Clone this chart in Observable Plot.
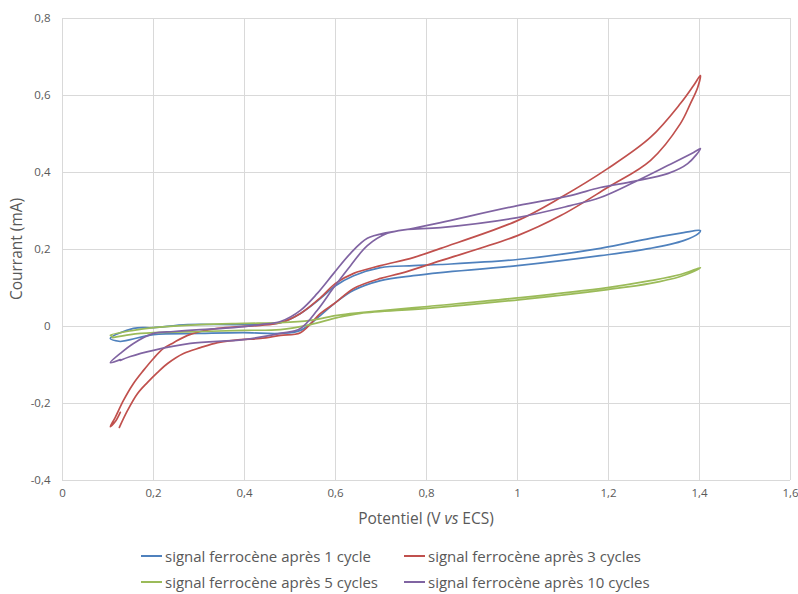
<!DOCTYPE html>
<html>
<head>
<meta charset="utf-8">
<script src="https://cdn.jsdelivr.net/npm/d3@7"></script>
<script src="https://cdn.jsdelivr.net/npm/@observablehq/plot@0.6"></script>
<style>
  html, body { margin: 0; padding: 0; background: #fff; }
  #wrap { position: relative; width: 798px; height: 594px; overflow: hidden; font-family: "Open Sans", sans-serif; color: #595959; }
  #xtitle { position: absolute; left: 62px; width: 728px; top: 507px; text-align: center; font-size: 15.5px; }
  #legend { position: absolute; left: 141px; top: 545px; display: grid; grid-template-columns: 263px 263px; row-gap: 4px; font-size: 15px; }
  .item { display: flex; align-items: center; height: 22px; white-space: nowrap; }
  .sw { display: inline-block; width: 21px; height: 2px; margin-right: 3px; }
</style>
</head>
<body>
<div id="wrap">
  <div id="chart"></div>
  <div id="xtitle">Potentiel (V <i>vs</i> ECS)</div>
  <div id="legend"></div>
</div>
<script>
// Series names and colours
const seriesNames = [
  "signal ferrocène après 1 cycle",
  "signal ferrocène après 3 cycles",
  "signal ferrocène après 5 cycles",
  "signal ferrocène après 10 cycles"
];
const seriesColors = ["#4F81BD", "#C0504D", "#9BBB59", "#8064A2"];

// Axis ticks
const xTicks = [0, 0.2, 0.4, 0.6, 0.8, 1, 1.2, 1.4, 1.6];
const yTicks = [-0.4, -0.2, 0, 0.2, 0.4, 0.6, 0.8];

// 1 cycle (blue): potential (V) and current (mA), ordered along the scan
const blueV = [0.127, 0.105, 0.156, 0.200, 0.275, 0.398, 0.479, 0.523, 0.567, 0.600, 0.640, 0.699, 0.771, 0.831, 1.0, 1.182, 1.292, 1.365, 1.402,
               1.398, 1.365, 1.292, 1.182, 1.0, 0.831, 0.771, 0.699, 0.640, 0.600, 0.567, 0.523, 0.479, 0.398, 0.303, 0.200, 0.149, 0.127];
const blueI = [-0.039, -0.031, -0.005, -0.003, 0.005, 0.005, 0.010, 0.034, 0.073, 0.106, 0.132, 0.153, 0.158, 0.161, 0.174, 0.203, 0.229, 0.244, 0.249,
               0.242, 0.223, 0.203, 0.184, 0.158, 0.140, 0.132, 0.119, 0.094, 0.062, 0.029, -0.010, -0.018, -0.016, -0.018, -0.021, -0.034, -0.039];

// 3 cycles (red)
const redV = [0.127, 0.116, 0.105, 0.116, 0.134, 0.156, 0.178, 0.200, 0.222, 0.244, 0.275, 0.303, 0.341, 0.391, 0.435, 0.479, 0.523, 0.567, 0.600, 0.640, 0.699, 0.771, 0.831, 1.0, 1.095, 1.198, 1.292, 1.358, 1.387, 1.402,
              1.396, 1.380, 1.358, 1.292, 1.198, 1.095, 1.0, 0.831, 0.743, 0.699, 0.640, 0.600, 0.567, 0.523, 0.479, 0.435, 0.391, 0.341, 0.303, 0.266, 0.231, 0.209, 0.187, 0.165, 0.143, 0.125];
const redI = [-0.223, -0.247, -0.260, -0.236, -0.192, -0.148, -0.114, -0.083, -0.057, -0.042, -0.023, -0.013, -0.005, 0.000, 0.003, 0.010, 0.034, 0.075, 0.112, 0.138, 0.158, 0.179, 0.203, 0.275, 0.335, 0.410, 0.491, 0.579, 0.626, 0.652,
              0.621, 0.579, 0.527, 0.431, 0.361, 0.288, 0.236, 0.171, 0.138, 0.125, 0.099, 0.062, 0.034, -0.016, -0.023, -0.031, -0.034, -0.042, -0.055, -0.070, -0.096, -0.119, -0.145, -0.174, -0.218, -0.262];

// 5 cycles (green)
const greenV = [0.110, 0.105, 0.156, 0.200, 0.303, 0.398, 0.479, 0.545, 0.604, 0.655, 0.802, 1.007, 1.198, 1.292, 1.358, 1.402,
                1.396, 1.358, 1.292, 1.198, 1.007, 0.802, 0.655, 0.604, 0.545, 0.479, 0.398, 0.303, 0.200, 0.149, 0.110];
const greenI = [-0.026, -0.023, -0.010, -0.003, 0.005, 0.008, 0.010, 0.016, 0.029, 0.036, 0.052, 0.075, 0.101, 0.119, 0.135, 0.153,
                0.148, 0.130, 0.112, 0.096, 0.070, 0.047, 0.034, 0.023, 0.005, -0.008, -0.010, -0.013, -0.016, -0.021, -0.029];

// 10 cycles (purple)
const purpleV = [0.127, 0.105, 0.127, 0.156, 0.200, 0.244, 0.303, 0.376, 0.435, 0.479, 0.523, 0.560, 0.596, 0.633, 0.670, 0.714, 0.758, 0.831, 1.0, 1.116, 1.182, 1.255, 1.330, 1.387, 1.402,
                 1.374, 1.330, 1.255, 1.182, 1.116, 1.0, 0.831, 0.771, 0.714, 0.670, 0.633, 0.596, 0.560, 0.523, 0.479, 0.398, 0.281, 0.200, 0.149, 0.127];
const purpleI = [-0.086, -0.094, -0.070, -0.044, -0.018, -0.013, -0.008, -0.003, 0.005, 0.013, 0.042, 0.086, 0.138, 0.190, 0.229, 0.244, 0.252, 0.257, 0.283, 0.314, 0.335, 0.374, 0.418, 0.452, 0.462,
                 0.423, 0.397, 0.377, 0.361, 0.340, 0.314, 0.270, 0.255, 0.242, 0.210, 0.158, 0.101, 0.042, -0.005, -0.018, -0.034, -0.044, -0.062, -0.078, -0.088];

const seriesV = [blueV, redV, greenV, purpleV];
const seriesI = [blueI, redI, greenI, purpleI];

const rows = seriesNames.flatMap((name, k) =>
  seriesV[k].map((v, i) => ({series: name, V: v, I: seriesI[k][i]}))
);

const fmt = d => String(d).replace(".", ",");

const chart = Plot.plot({
  width: 798,
  height: 505,
  marginLeft: 62,
  marginRight: 8,
  marginTop: 18,
  marginBottom: 25,
  style: {fontFamily: "'Open Sans', sans-serif", fontSize: "11.5px", color: "#595959", background: "#fff"},
  x: {domain: [0, 1.6], ticks: xTicks, tickFormat: fmt, label: null},
  y: {domain: [-0.4, 0.8], ticks: yTicks, tickFormat: fmt, label: null},
  color: {domain: seriesNames, range: seriesColors},
  marks: [
    Plot.gridX(xTicks, {stroke: "#d9d9d9", strokeOpacity: 1, strokeWidth: 1}),
    Plot.gridY(yTicks, {stroke: "#d9d9d9", strokeOpacity: 1, strokeWidth: 1}),
    Plot.axisX(xTicks, {tickSize: 0, tickPadding: 8, tickFormat: fmt, fill: "#595959", label: null}),
    Plot.axisY(yTicks, {tickSize: 0, tickPadding: 12, tickFormat: fmt, fill: "#595959", label: null}),
    Plot.line(rows, {x: "V", y: "I", z: "series", stroke: "series", curve: "catmull-rom", strokeWidth: 1.7})
  ]
});
document.getElementById("chart").appendChild(chart);

// Y axis title (rotated text inside the SVG)
d3.select(chart).append("text")
  .attr("transform", "translate(18,249) rotate(-90)")
  .attr("text-anchor", "middle")
  .attr("dominant-baseline", "middle")
  .attr("fill", "#595959")
  .style("font-size", "15.5px")
  .text("Courrant (mA)");

// Legend
const legend = document.getElementById("legend");
[0, 1, 2, 3].forEach(k => {
  const item = document.createElement("div");
  item.className = "item";
  const sw = document.createElement("span");
  sw.className = "sw";
  sw.style.background = seriesColors[k];
  const tx = document.createElement("span");
  tx.textContent = seriesNames[k];
  item.appendChild(sw);
  item.appendChild(tx);
  legend.appendChild(item);
});
</script>
</body>
</html>
